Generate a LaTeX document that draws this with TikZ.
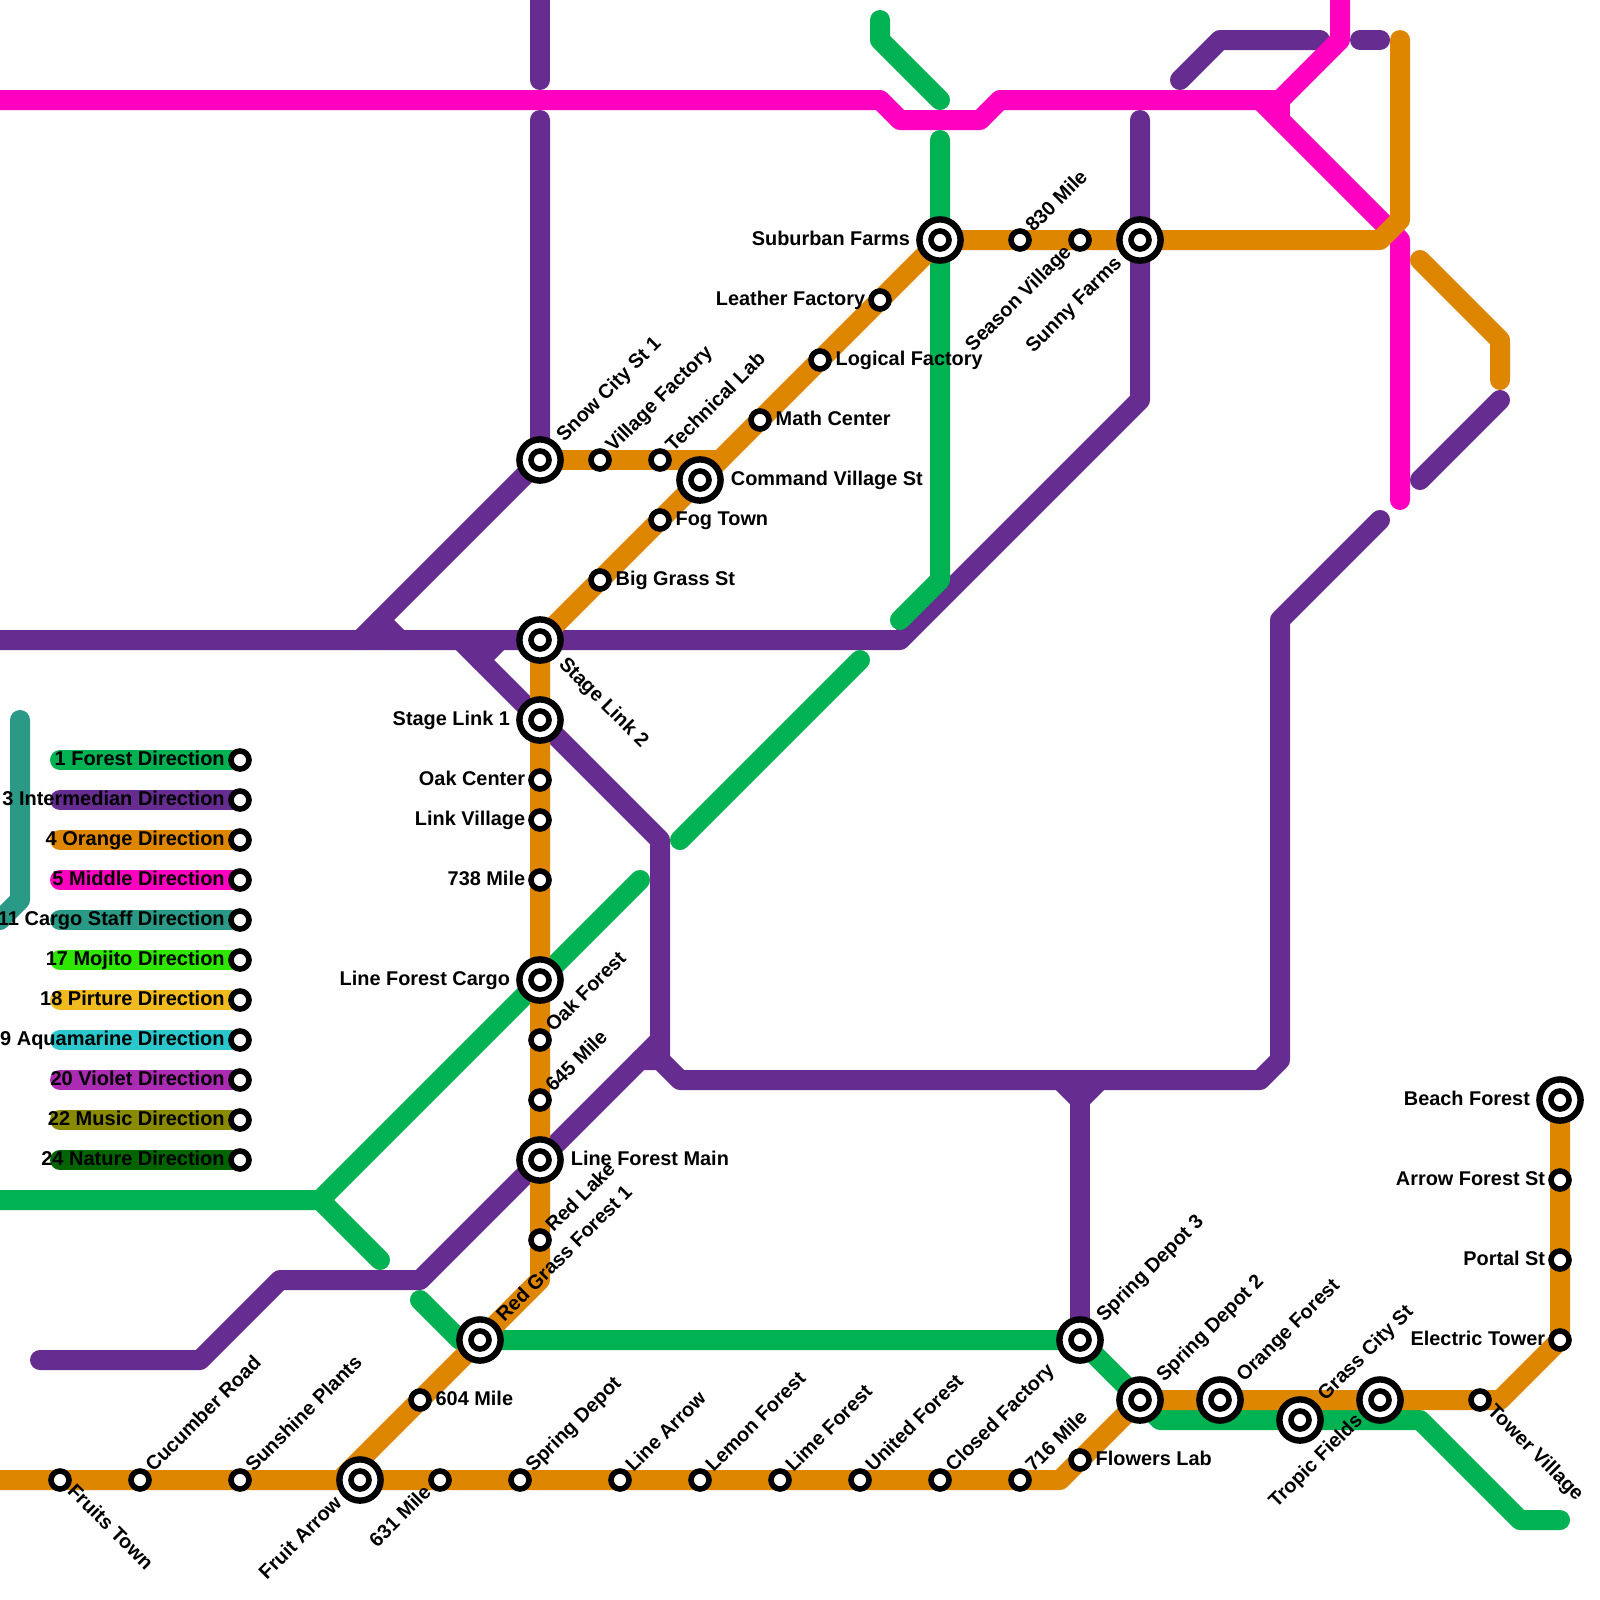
\documentclass[tikz,border=0pt]{standalone}
\usepackage{fontspec}
\setmainfont{Liberation Sans}
\usepackage{xcolor}
\usetikzlibrary{positioning,backgrounds}
\definecolor{colGreen}{HTML}{00B251}
\definecolor{colPurple}{HTML}{662C90}
\definecolor{colOrange}{HTML}{DF8600}
\definecolor{colMagenta}{HTML}{FF00C1}
\definecolor{colTeal}{HTML}{2A9A86}
\definecolor{colMojito}{HTML}{2EE600}
\definecolor{colPirture}{HTML}{F1BA1F}
\definecolor{colAqua}{HTML}{2AC8CC}
\definecolor{colViolet}{HTML}{AC2BB3}
\definecolor{colMusic}{HTML}{8A8A00}
\definecolor{colNature}{HTML}{006400}
\tikzset{
    metroLine/.style={line width=0.5cm, line cap=round, line join=round},
    stopDot/.style={
        circle,
        draw=black,
        fill=white,
        line width=0.14cm,
        inner sep=0pt,
        outer sep=0pt,
        minimum size=0.45cm
    },
    hubDot/.style={stopDot, line width=0.16cm, minimum size=1.03cm},
    lblText/.style={
        font=\fontsize{14.15}{17}\selectfont\bfseries,
        inner sep=0pt,
        text height=0.35cm,
        text depth=0.1cm
    },
    lblLegend/.style={lblText, font=\fontsize{14.23}{17}\selectfont\bfseries},
    lblNE/.style={lblText, anchor=west, rotate=45},
    lblSE/.style={lblText, anchor=west, rotate=-45},
    lblSW/.style={lblText, anchor=east, rotate=45}
}

\begin{document}
\begin{tikzpicture}[x=0.5cm, y=-0.5cm]
    \useasboundingbox (0,0) rectangle (80,80);

    \foreach \nome/\x/\y in {
        fruitsTown/3/74, cucumberRoad/7/74, sunshinePlants/12/74, mile631/22/74,
        springDepot/26/74, lineArrow/31/74, lemonForest/35/74, limeForest/39/74,
        unitedForest/43/74, closedFactory/47/74, mile716/51/74, flowersLab/54/73,
        mile604/21/70, redLake/27/62, mile645/27/55, oakForest/27/52,
        mile738/27/44, linkVillage/27/41, oakCenter/27/39, bigGrass/30/29,
        fogTown/33/26, villageFactory/30/23, technicalLab/33/23, mathCenter/38/21,
        logicalFactory/41/18, leatherFactory/44/15, mile830/51/12, seasonVillage/54/12,
        towerVillage/74/70, electricTower/78/67, portalSt/78/63, arrowForest/78/59}
        \node[stopDot] (\nome) at (\x,\y) {};

    \foreach \nome/\x/\y in {
        fruitArrow/18/74, redGrass/24/67, forestMain/27/58, forestCargo/27/49,
        stageOne/27/36, stageTwo/27/32, snowCity/27/23, commandVillage/35/24,
        suburbanFarms/47/12, sunnyFarms/57/12, depotThree/54/67, depotTwo/57/70,
        orangeForest/61/70, tropicFields/65/71, grassCity/69/70, beachForest/78/55} {
        \node[hubDot] (\nome) at (\x,\y) {};
        \node[stopDot] (\nome-in) at (\x,\y) {};
    }

    \foreach \nome/\x/\y in {
        pTopA/27/-1, pTopB/27/4, pSnow/27/6, pBendA/19/31, pBendB/20/32, pBendC/18/32,
        pWest/-1/32, pEast/45/32, pFarmsLow/57/20, pFarmsTop/57/6,
        pForkA/25/32, pForkB/24/33, pForkC/23/32, pElbow/33/42, pDrop/33/53, pStub/33/52,
        pFarW/2/68, pLowA/10/68, pLowB/14/64, pLowC/21/64, pJoinA/32/53,
        pJoinB/34/54, pJoinC/63/54, pJoinD/64/53, pJoinE/64/31, pJoinF/69/26,
        pTeeA/53/54, pTeeB/54/55, pTeeC/55/54,
        pUpA/59/4, pUpB/61/2, pUpC/66/2, pBitA/68/2, pBitB/69/2, pSideA/71/24, pSideB/75/20,
        mWest/-1/5, mDipA/44/5, mDipB/45/6, mDipC/49/6, mDipD/50/5, mFork/64/5,
        mForkB/64/6, mForkC/63/5, mTurn/67/2, mTop/67/-1, mEdge/70/12, mEnd/70/25,
        gWest/-1/60, gCross/16/60, gEnd/32/44, gStub/19/63, gLowA/21/65, gLowB/23/67,
        gLowC/58/71, gLowD/71/71, gLowE/76/76, gLowF/78/76,
        gTopA/44/1, gTopB/44/2, gTopC/47/5, gMidA/47/7, gMidB/47/29, gMidC/45/31,
        gDiagA/43/33, gDiagB/34/42,
        oWest/-1/74, oBendA/53/74, oBendB/75/70, oStart/17/74, oKnee/27/64,
        oFlat/36/23, oSecA/69/12, oSecB/70/11, oSecC/70/2, oFarA/71/13, oFarB/75/17, oFarC/75/19,
        tTop/1/36, tKnee/1/45, tEnd/0/46}
        \coordinate (\nome) at (\x,\y);

    \begin{scope}[on background layer]
        \draw[metroLine, colPurple] (pTopA) -- (pTopB);
        \draw[metroLine, colPurple] (pSnow) -- (snowCity.center) -- (pBendC);
        \draw[metroLine, colPurple] (pBendA) -- (pBendB);
        \draw[metroLine, colPurple] (pWest) -- (stageTwo.center) -- (pEast) -- (pFarmsLow) -- (sunnyFarms.center) -- (pFarmsTop);
        \draw[metroLine, colPurple] (pForkC) -- (stageOne.center) -- (pElbow) -- (pDrop);
        \draw[metroLine, colPurple] (pForkA) -- (pForkB);
        \draw[metroLine, colPurple] (pFarW) -- (pLowA) -- (pLowB) -- (pLowC) -- (forestMain.center) -- (pJoinA) -- (pDrop) -- (pJoinB) -- (pJoinC) -- (pJoinD) -- (pJoinE) -- (pJoinF);
        \draw[metroLine, colPurple] (pJoinA) -- (pStub);
        \draw[metroLine, colPurple] (pTeeA) -- (pTeeB) -- (pTeeC);
        \draw[metroLine, colPurple] (pTeeB) -- (depotThree.center);
        \draw[metroLine, colPurple] (pUpA) -- (pUpB) -- (pUpC);
        \draw[metroLine, colPurple] (pBitA) -- (pBitB);
        \draw[metroLine, colPurple] (pSideA) -- (pSideB);

        \draw[metroLine, colMagenta] (mWest) -- (mDipA) -- (mDipB) -- (mDipC) -- (mDipD) -- (mFork) -- (mTurn) -- (mTop);
        \draw[metroLine, colMagenta] (mForkC) -- (mEdge) -- (mEnd);
        \draw[metroLine, colMagenta] (mFork) -- (mForkB);

        \draw[metroLine, colTeal] (tTop) -- (tKnee) -- (tEnd);

        \draw[metroLine, colGreen] (gWest) -- (gCross) -- (forestCargo.center) -- (gEnd);
        \draw[metroLine, colGreen] (gCross) -- (gStub);
        \draw[metroLine, colGreen] (gLowA) -- (gLowB) -- (redGrass.center) -- (depotThree.center) -- (depotTwo.center) -- (gLowC) -- (tropicFields.center) -- (gLowD) -- (gLowE) -- (gLowF);
        \draw[metroLine, colGreen] (gTopA) -- (gTopB) -- (gTopC);
        \draw[metroLine, colGreen] (gMidA) -- (suburbanFarms.center) -- (gMidB) -- (gMidC);
        \draw[metroLine, colGreen] (gDiagA) -- (gDiagB);

        \draw[metroLine, colOrange] (oWest) -- (fruitsTown.center) -- (cucumberRoad.center) -- (sunshinePlants.center) -- (fruitArrow.center) -- (mile631.center) -- (springDepot.center) -- (lineArrow.center) -- (lemonForest.center) -- (limeForest.center) -- (unitedForest.center) -- (closedFactory.center) -- (mile716.center) -- (oBendA) -- (flowersLab.center) -- (depotTwo.center) -- (orangeForest.center) -- (grassCity.center) -- (towerVillage.center) -- (oBendB) -- (electricTower.center) -- (portalSt.center) -- (arrowForest.center) -- (beachForest.center);
        \draw[metroLine, colOrange] (oStart) -- (mile604.center) -- (redGrass.center) -- (oKnee) -- (redLake.center) -- (forestMain.center) -- (mile645.center) -- (oakForest.center) -- (forestCargo.center) -- (mile738.center) -- (linkVillage.center) -- (oakCenter.center) -- (stageOne.center) -- (stageTwo.center) -- (bigGrass.center) -- (fogTown.center) -- (commandVillage.center) -- (mathCenter.center) -- (logicalFactory.center) -- (leatherFactory.center) -- (suburbanFarms.center) -- (mile830.center) -- (seasonVillage.center) -- (sunnyFarms.center) -- (oSecA) -- (oSecB) -- (oSecC);
        \draw[metroLine, colOrange] (snowCity.center) -- (villageFactory.center) -- (technicalLab.center) -- (oFlat);
        \draw[metroLine, colOrange] (oFarA) -- (oFarB) -- (oFarC);
    \end{scope}

    \foreach \fila/\cor/\txt in {
        38/colGreen/1 Forest Direction, 40/colPurple/3 Intermedian Direction,
        42/colOrange/4 Orange Direction, 44/colMagenta/5 Middle Direction,
        46/colTeal/11 Cargo Staff Direction, 48/colMojito/17 Mojito Direction,
        50/colPirture/18 Pirture Direction, 52/colAqua/19 Aquamarine Direction,
        54/colViolet/20 Violet Direction, 56/colMusic/22 Music Direction,
        58/colNature/24 Nature Direction} {
        \coordinate (legStart\fila) at (3,\fila);
        \node[stopDot] (legStop\fila) at (12,\fila) {};
        \node[lblLegend, left=0.15cm of legStop\fila] (legLbl\fila) {\txt};
        \begin{scope}[on background layer]
            \draw[metroLine, \cor] (legStart\fila) -- (legStop\fila.center);
        \end{scope}
    }

    \foreach \nome/\txt in {
        mile604/604 Mile, flowersLab/Flowers Lab, bigGrass/Big Grass St, fogTown/Fog Town,
        mathCenter/Math Center, logicalFactory/Logical Factory}
        \node[lblText, right=0.16cm of \nome] (lbl\nome) {\txt};

    \foreach \nome/\txt in {forestMain/Line Forest Main, commandVillage/Command Village St}
        \node[lblText, right=0.25cm of \nome] (lbl\nome) {\txt};

    \foreach \nome/\txt in {
        oakCenter/Oak Center, linkVillage/Link Village, mile738/738 Mile,
        leatherFactory/Leather Factory, arrowForest/Arrow Forest St, portalSt/Portal St,
        electricTower/Electric Tower}
        \node[lblText, left=0.14cm of \nome] (lbl\nome) {\txt};

    \foreach \nome/\txt in {
        stageOne/Stage Link 1, forestCargo/Line Forest Cargo,
        suburbanFarms/Suburban Farms, beachForest/Beach Forest}
        \node[lblText, left=0.23cm of \nome] (lbl\nome) {\txt};

    \foreach \nome/\txt in {
        oakForest/Oak Forest, mile645/645 Mile, redLake/Red Lake, villageFactory/Village Factory,
        technicalLab/Technical Lab, mile830/830 Mile, cucumberRoad/Cucumber Road,
        sunshinePlants/Sunshine Plants, springDepot/Spring Depot, lineArrow/Line Arrow,
        lemonForest/Lemon Forest, limeForest/Lime Forest, unitedForest/United Forest,
        closedFactory/Closed Factory, mile716/716 Mile}
        \node[lblNE, above right=0.1cm and 0.09cm of \nome, anchor=west] (lbl\nome) {\txt};

    \foreach \nome/\txt in {
        snowCity/Snow City St 1, redGrass/Red Grass Forest 1, depotThree/Spring Depot 3,
        depotTwo/Spring Depot 2, orangeForest/Orange Forest}
        \node[lblNE, above right=0.15cm and 0.15cm of \nome, anchor=west] (lbl\nome) {\txt};

    \node[lblNE] (lblgrassCity) at (66.1,69.9) {Grass City St};

    \foreach \nome/\txt in {fruitsTown/Fruits Town, towerVillage/Tower Village}
        \node[lblSE, below right=0.05cm and 0.09cm of \nome, anchor=west] (lbl\nome) {\txt};

    \node[lblSE, below right=0.17cm and 0.17cm of stageTwo, anchor=west] (lblstageTwo) {Stage Link 2};

    \foreach \nome/\txt in {seasonVillage/Season Village, mile631/631 Mile}
        \node[lblSW, below left=0.08cm and 0.12cm of \nome, anchor=east] (lbl\nome) {\txt};

    \foreach \nome/\txt in {fruitArrow/Fruit Arrow, sunnyFarms/Sunny Farms}
        \node[lblSW, below left=0.15cm and 0.15cm of \nome, anchor=east] (lbl\nome) {\txt};

    \node[lblSW] (lbltropicFields) at (68,70.9) {Tropic Fields};
\end{tikzpicture}
\end{document}
